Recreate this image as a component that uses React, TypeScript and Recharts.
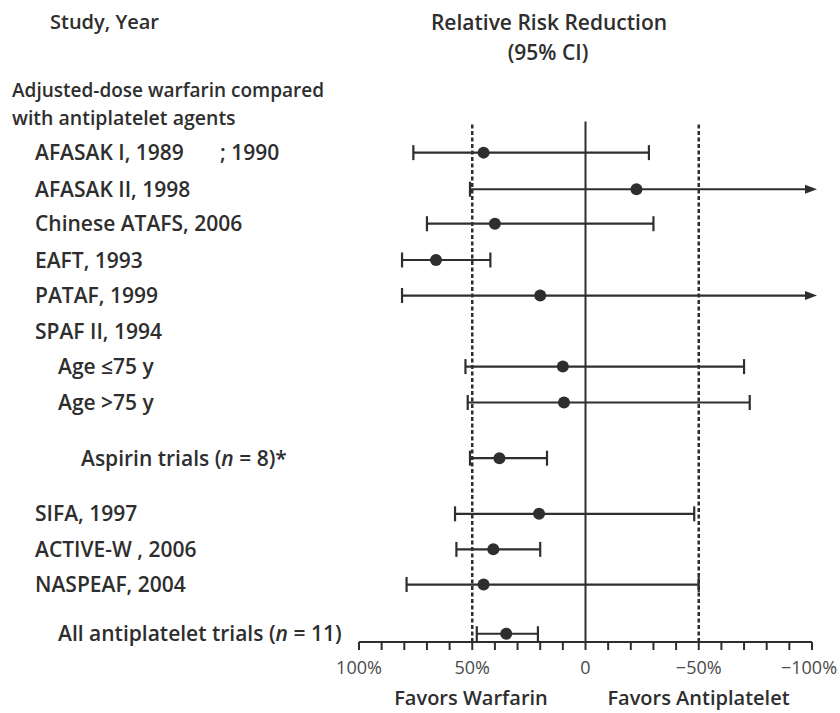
import React from 'react';
import { ScatterChart, Scatter, XAxis, YAxis, ReferenceLine } from 'recharts';

// ---------- data ----------
const studies = [
  'AFASAK I, 1989',
  'AFASAK II, 1998',
  'Chinese ATAFS, 2006',
  'EAFT, 1993',
  'PATAF, 1999',
  'SPAF II, 1994',
  'Age ≤75 y',
  'Age >75 y',
  'Aspirin trials (n = 8)*',
  'SIFA, 1997',
  'ACTIVE-W , 2006',
  'NASPEAF, 2004',
  'All antiplatelet trials (n = 11)',
];
const indentLevels = [1, 1, 1, 1, 1, 1, 2, 2, 3, 1, 1, 1, 2];
const rowPositions = [0, 1.02, 1.98, 2.99, 3.98, 4.97, 5.96, 6.96, 8.51, 10.06, 11.05, 12.03, 13.4];
const pointEstimates: (number | null)[] = [45, -22.5, 40, 66, 20, null, 10, 9.5, 38, 20.5, 40.7, 45, 35];
const ciUpper: (number | null)[] = [76, 51, 70, 81, 81, null, 53, 52, 51, 57.6, 57, 79, 48];
const ciLower: (number | null)[] = [-28, -100, -30, 42, -100, null, -70, -72.5, 17, -48, 20, -50, 21];
const ciOpenEnded = [false, true, false, false, true, false, false, false, false, false, false, false, false];

const xTicks = [100, 90, 80, 70, 60, 50, 40, 30, 20, 10, 0, -10, -20, -30, -40, -50, -60, -70, -80, -90, -100];
const labeledTicks = [100, 50, 0, -50, -100];
const labeledTickText = ['100%', '50%', '0', '−50%', '−100%'];
const thresholdLines = [50, -50];
const noEffect = 0;

// ---------- layout / style ----------
const W = 840;
const H = 713;
const INK = '#2e2e2e';
const FONT = '"Open Sans", sans-serif';
const indentX: Record<number, number> = { 1: 35, 2: 58, 3: 81 };
const Y_DOMAIN: [number, number] = [-1.8, 13.63];

const points = pointEstimates
  .map((p, i) => (p === null ? null : { x: p, y: rowPositions[i] }))
  .filter((d) => d !== null) as { x: number; y: number }[];

const StudyTick = (props: any) => {
  const { y, payload } = props;
  let i = rowPositions.indexOf(payload.value);
  if (i < 0) {
    let best = 0;
    rowPositions.forEach((r, k) => {
      if (Math.abs(r - payload.value) < Math.abs(rowPositions[best] - payload.value)) best = k;
    });
    i = best;
  }
  const label = studies[i];
  const x = indentX[indentLevels[i]];
  const common = {
    x,
    y,
    dy: '0.36em',
    fill: INK,
    fontFamily: FONT,
    fontWeight: 600,
    fontSize: 21,
  };
  if (label.startsWith('AFASAK I,')) {
    return (
      <text {...common}>
        {label}
        <tspan x={220}>; 1990</tspan>
      </text>
    );
  }
  const m = label.match(/^(.*\()n( = .*)$/);
  if (m) {
    return (
      <text {...common}>
        {m[1]}
        <tspan fontStyle="italic">n</tspan>
        {m[2]}
      </text>
    );
  }
  return <text {...common}>{label}</text>;
};

const AxisTick = (props: any) => {
  const { x, y, payload } = props;
  const k = labeledTicks.indexOf(payload.value);
  if (k < 0) return <g />;
  const isLast = k === labeledTicks.length - 1;
  return (
    <text
      x={isLast ? x - 3 : x}
      y={y + 15}
      dominantBaseline="central"
      textAnchor="middle"
      fill="#4a4a4a"
      fontFamily={FONT}
      fontWeight={400}
      fontSize={18}
    >
      {labeledTickText[k]}
    </text>
  );
};

const makeCiShape = (openEnded: boolean) => (props: any) => {
  const { x1, y1, x2, y2 } = props;
  const left = Math.min(x1, x2);
  const right = Math.max(x1, x2);
  const cy = (y1 + y2) / 2;
  const cap = 7.5;
  return (
    <g>
      <line x1={left} y1={cy} x2={openEnded ? right - 2 : right} y2={cy} stroke={INK} strokeWidth={2.2} />
      <line x1={left} y1={cy - cap} x2={left} y2={cy + cap} stroke={INK} strokeWidth={2.2} />
      {openEnded ? (
        <path d={`M ${right - 7} ${cy - 4.5} L ${right + 5} ${cy} L ${right - 7} ${cy + 4.5} Z`} fill={INK} />
      ) : (
        <line x1={right} y1={cy - cap} x2={right} y2={cy + cap} stroke={INK} strokeWidth={2.2} />
      )}
    </g>
  );
};

const textStyle: React.CSSProperties = {
  position: 'absolute',
  fontFamily: FONT,
  fontWeight: 600,
  fontSize: 21,
  color: INK,
  lineHeight: '26px',
  whiteSpace: 'nowrap',
};

const centered = (cx: number, cy: number, size = 21): React.CSSProperties => ({
  ...textStyle,
  fontSize: size,
  left: cx - 200,
  width: 400,
  top: cy - 13,
  textAlign: 'center',
});

export default function App() {
  return (
    <div style={{ position: 'absolute', left: 0, top: 0, width: W, height: H, background: '#fff' }}>
      <ScatterChart width={W} height={H} margin={{ top: 88, right: 28, bottom: 26, left: 0 }}>
        <XAxis
          type="number"
          dataKey="x"
          domain={[-100, 100]}
          reversed
          allowDataOverflow
          ticks={xTicks}
          interval={0}
          tickSize={8}
          tickLine={{ stroke: INK, strokeWidth: 2 }}
          axisLine={{ stroke: INK, strokeWidth: 2 }}
          tick={<AxisTick />}
          height={45}
        />
        <YAxis
          type="number"
          dataKey="y"
          domain={Y_DOMAIN}
          reversed
          allowDataOverflow
          ticks={rowPositions}
          interval={0}
          width={359}
          axisLine={false}
          tickLine={false}
          tick={<StudyTick />}
        />
        <ReferenceLine
          segment={[
            { x: noEffect, y: -0.87 },
            { x: noEffect, y: Y_DOMAIN[1] },
          ]}
          stroke={INK}
          strokeWidth={2}
          ifOverflow="visible"
        />
        {thresholdLines.map((t) => (
          <ReferenceLine
            key={`t${t}`}
            segment={[
              { x: t, y: -0.78 },
              { x: t, y: Y_DOMAIN[1] },
            ]}
            stroke={INK}
            strokeWidth={2.5}
            strokeDasharray="4 2.5"
            ifOverflow="visible"
          />
        ))}
        {studies.map((s, i) =>
          ciUpper[i] === null || ciLower[i] === null ? null : (
            <ReferenceLine
              key={`ci${i}`}
              segment={[
                { x: ciUpper[i] as number, y: rowPositions[i] },
                { x: ciLower[i] as number, y: rowPositions[i] },
              ]}
              ifOverflow="visible"
              shape={makeCiShape(ciOpenEnded[i])}
            />
          )
        )}
        <Scatter
          data={points}
          isAnimationActive={false}
          shape={(p: any) => <circle cx={p.cx} cy={p.cy} r={6} fill={INK} />}
        />
      </ScatterChart>

      <div style={{ ...textStyle, fontSize: 20, left: 50, top: 22 - 13 }}>Study, Year</div>
      <div style={centered(549, 22)}>Relative Risk Reduction</div>
      <div style={centered(548, 52)}>(95% CI)</div>
      <div style={{ ...textStyle, fontSize: 19, left: 12, top: 90 - 13 }}>Adjusted-dose warfarin compared</div>
      <div style={{ ...textStyle, fontSize: 19.5, left: 12, top: 118 - 13 }}>with antiplatelet agents</div>
      <div style={centered(471, 698, 20)}>Favors Warfarin</div>
      <div style={centered(698.5, 698, 20)}>Favors Antiplatelet</div>
    </div>
  );
}
